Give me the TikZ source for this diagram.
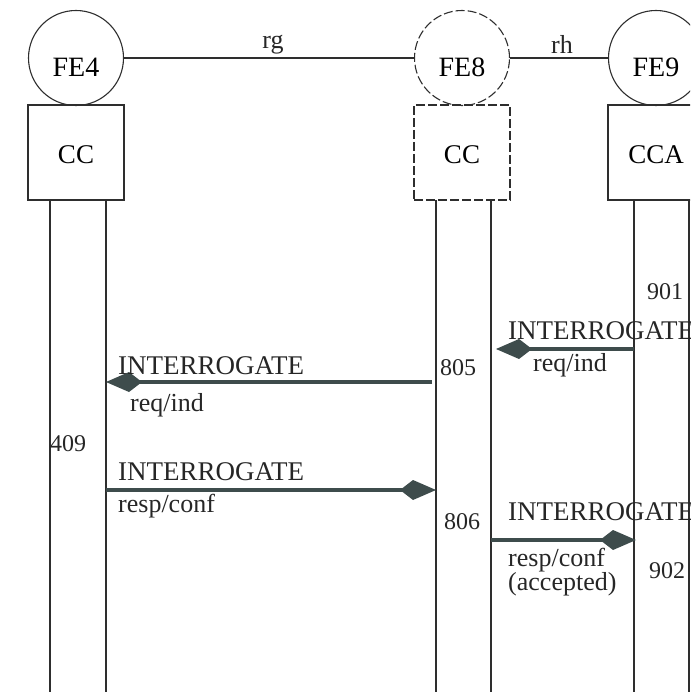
\documentclass[tikz,border=0pt]{standalone}
\usepackage{fontspec}
\setmainfont{Liberation Serif}
\usetikzlibrary{arrows.meta}
\definecolor{ink}{HTML}{2E2E2E}
\definecolor{msg}{HTML}{3E4C4C}
\begin{document}
\begin{tikzpicture}[x=1pt,y=-1pt,
  fe/.style={draw=ink,line width=1.1pt,circle,minimum size=95pt,inner sep=0pt,text height=38pt,text depth=0pt,font=\fontsize{28}{30}\selectfont},
  unit/.style={draw=ink,line width=1.1pt,rectangle,minimum width=96pt,minimum height=95pt,inner sep=0pt,text height=22pt,text depth=0pt,font=\fontsize{27}{30}\selectfont},
  dashedpart/.style={dash pattern=on 9pt off 3pt},
  life/.style={draw=ink,line width=1.1pt},
  link/.style={draw=ink,line width=1.3pt},
  msgline/.style={draw=msg,line width=3.2pt,-{Kite[length=36pt,width=20pt,inset=13pt]}},
  big/.style={inner sep=0pt,font=\fontsize{27}{30}\selectfont,text=black!85},
  txt/.style={inner sep=0pt,font=\fontsize{26}{30}\selectfont,text=black!85},
  num/.style={inner sep=0pt,font=\fontsize{24}{28}\selectfont,text=black!85}]
\useasboundingbox (0,0) rectangle (690,692);
\clip (0,0) rectangle (690,692);
% functional entities
\node[fe] (fe4) at (76,58) {FE4};
\node[fe,dashedpart] (fe8) at (462,58) {FE8};
\node[fe] (fe9) at (656,58) {FE9};
\node[unit] (cc4) at (76,152.5) {CC};
\node[unit,dashedpart] (cc8) at (462,152.5) {CC};
\node[unit] (cca9) at (656,152.5) {CCA};
% relationships
\draw[link] (fe4) -- node[txt,above=3pt,xshift=4pt] (rg) {rg} (fe8);
\draw[link] (fe8) -- node[txt,above=4pt,xshift=3pt] (rh) {rh} (fe9);
% lifelines
\coordinate (l4a) at (50,200);  \coordinate (l4ab) at (50,692);
\coordinate (l4b) at (106,200); \coordinate (l4bb) at (106,692);
\coordinate (l8a) at (436,200); \coordinate (l8ab) at (436,692);
\coordinate (l8b) at (491,200); \coordinate (l8bb) at (491,692);
\coordinate (l9a) at (634,200); \coordinate (l9ab) at (634,692);
\coordinate (l9b) at (689,200); \coordinate (l9bb) at (689,692);
\draw[life] (l4a) -- (l4ab);
\draw[life] (l4b) -- (l4bb);
\draw[life] (l8a) -- (l8ab);
\draw[life] (l8b) -- (l8bb);
\draw[life] (l9a) -- (l9ab);
\draw[life] (l9b) -- (l9bb);
% message end points
\coordinate (m1s) at (634,349); \coordinate (m1e) at (496,349);
\coordinate (m2s) at (432,382); \coordinate (m2e) at (106,382);
\coordinate (m3s) at (106,490); \coordinate (m3e) at (436,490);
\coordinate (m4s) at (491,540); \coordinate (m4e) at (636,540);
\draw[msgline] (m1s) -- (m1e);
\draw[msgline] (m2s) -- (m2e);
\draw[msgline] (m3s) -- (m3e);
\draw[msgline] (m4s) -- (m4e);
% labels
\node[num,anchor=base] (n901) at (665,299) {901};
\node[big,anchor=base west] (t1) at (508,339) {INTERROGATE};
\node[txt,anchor=base] (t1b) at (570,371) {req/ind};
\node[num,anchor=base] (n805) at (458,375) {805};
\node[big,anchor=base west] (t2) at (118,374) {INTERROGATE};
\node[txt,anchor=base west] (t2b) at (130,411) {req/ind};
\node[num,anchor=base] (n409) at (68,451) {409};
\node[big,anchor=base west] (t3) at (118,480) {INTERROGATE};
\node[txt,anchor=base west] (t3b) at (118,512) {resp/conf};
\node[num,anchor=base] (n806) at (462,529) {806};
\node[big,anchor=base west] (t4) at (508,520) {INTERROGATE};
\node[txt,anchor=base west] (t4b) at (508,566) {resp/conf};
\node[txt,anchor=base west] (t4c) at (508,590) {(accepted)};
\node[num,anchor=base] (n902) at (667,578) {902};
\end{tikzpicture}
\end{document}
